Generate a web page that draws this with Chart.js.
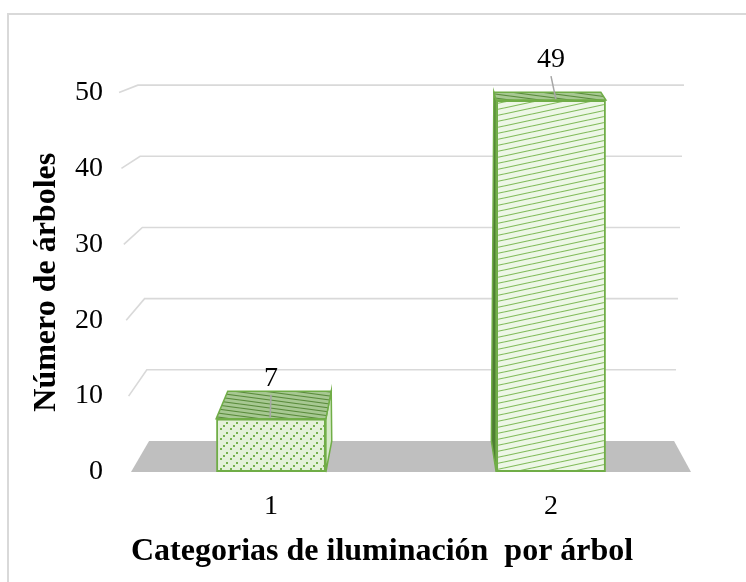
<!DOCTYPE html>
<html>
<head>
<meta charset="utf-8">
<script src="https://cdn.jsdelivr.net/npm/chart.js@4.4.0/dist/chart.umd.min.js"></script>
<style>
html,body{margin:0;padding:0;background:#ffffff;}
#wrap{width:746px;height:582px;position:relative;overflow:hidden;}
</style>
</head>
<body>
<div id="wrap"><canvas id="c" width="746" height="582"></canvas></div>
<script>
// ---- data ----
const categories = ['1', '2'];
const treeCounts = [7, 49];
const yTickValues = [0, 10, 20, 30, 40, 50];
const xAxisTitle = 'Categorias de iluminación  por árbol';
const yAxisTitle = 'Número de árboles';

// ---- style / geometry constants ----
const FONT = "'Liberation Serif', 'Times New Roman', serif";
const GREEN = '#70ad47';
const DEPTH_VP = {x: 420, y: -25};
const DEPTH_K = 0.9375;
const LEAN_VP = {x: 428, y: 9900};

const canvas = document.getElementById('c');
const mainCtx = canvas.getContext('2d');

function makePattern(w, h, bg, draw) {
  const t = document.createElement('canvas');
  t.width = w; t.height = h;
  const g = t.getContext('2d');
  g.fillStyle = bg; g.fillRect(0, 0, w, h);
  draw(g, w, h);
  return mainCtx.createPattern(t, 'repeat');
}
// dotted 45° hatch (bar 1 front)
const dottedPattern = makePattern(10, 10, '#e4f1da', (g) => {
  g.fillStyle = '#76b04f';
  [[0, 8], [3, 5], [6, 2]].forEach(p => g.fillRect(p[0], p[1], 2, 2));
});
// shallow upward lines (bar 2 front)
const linesPattern = makePattern(28, 6, '#edf7e6', (g, w, h) => {
  g.strokeStyle = '#82bb5b'; g.lineWidth = 1.1;
  for (let k = -1; k <= 1; k++) {
    g.beginPath(); g.moveTo(0, h + k * h); g.lineTo(w, k * h); g.stroke();
  }
});
// darker top-face hatch
const topPattern = makePattern(30, 4, '#a7c892', (g, w, h) => {
  g.strokeStyle = '#5a8b3c'; g.lineWidth = 1.1;
  for (let k = -1; k <= 1; k++) {
    g.beginPath(); g.moveTo(0, k * h); g.lineTo(w, h + k * h); g.stroke();
  }
});

function project(chart, x, y, d) {
  const base = chart.chartArea.bottom;
  const lx = LEAN_VP.x + (x - LEAN_VP.x) * (LEAN_VP.y - y) / (LEAN_VP.y - base);
  const s = 1 - d * (1 - DEPTH_K);
  return {x: DEPTH_VP.x + (lx - DEPTH_VP.x) * s, y: DEPTH_VP.y + (y - DEPTH_VP.y) * s};
}
function poly(ctx, pts, fill, stroke, lw) {
  ctx.beginPath();
  pts.forEach((p, i) => i ? ctx.lineTo(p.x, p.y) : ctx.moveTo(p.x, p.y));
  ctx.closePath();
  if (fill) { ctx.fillStyle = fill; ctx.fill(); }
  if (stroke) { ctx.strokeStyle = stroke; ctx.lineWidth = lw || 1; ctx.stroke(); }
}

const scene3d = {
  id: 'scene3d',
  beforeDraw(chart) {
    const ctx = chart.ctx;
    ctx.save();
    ctx.fillStyle = '#ffffff';
    ctx.fillRect(0, 0, chart.width, chart.height);
    ctx.strokeStyle = '#d9d9d9'; ctx.lineWidth = 2;
    ctx.strokeRect(8, 14, 800, 700);
    ctx.restore();
  },
  beforeDatasetsDraw(chart) {
    const ctx = chart.ctx, ca = chart.chartArea, ys = chart.scales.y;
    ctx.save();
    // floor
    poly(ctx, [
      {x: ca.left, y: ca.bottom}, {x: ca.right, y: ca.bottom},
      project(chart, ca.right, ca.bottom, 1), project(chart, ca.left, ca.bottom, 1)
    ], '#bfbfbf');
    // back wall gridlines + side wall diagonals
    ctx.strokeStyle = '#d9d9d9'; ctx.lineWidth = 1.6;
    ys.ticks.forEach(t => {
      if (t.value <= 0) return;
      const y = ys.getPixelForValue(t.value);
      const a = project(chart, ca.left, y, 0);
      const b = project(chart, ca.left, y, 1);
      const c = project(chart, ca.right, y, 1);
      ctx.beginPath(); ctx.moveTo(a.x, a.y); ctx.lineTo(b.x, b.y); ctx.lineTo(c.x, c.y); ctx.stroke();
    });
    // bar side and top faces
    const meta = chart.getDatasetMeta(0);
    meta.data.forEach(bar => {
      const p = bar.getProps(['x', 'y', 'base', 'width'], true);
      const x1 = p.x - p.width / 2, x2 = p.x + p.width / 2, top = p.y, base = p.base;
      if (x2 < DEPTH_VP.x) {
        poly(ctx, [{x: x2, y: top}, {x: x2, y: base}, project(chart, x2, base, 1), project(chart, x2, top, 1)],
          '#d6eac8', GREEN, 1.5);
      }
      if (x1 > DEPTH_VP.x) {
        poly(ctx, [{x: x1, y: top}, {x: x1, y: base}, project(chart, x1, base, 1), project(chart, x1, top, 1)],
          '#4e7e33', GREEN, 1.5);
      }
      poly(ctx, [{x: x1, y: top}, {x: x2, y: top}, project(chart, x2, top, 1), project(chart, x1, top, 1)],
        topPattern, GREEN, 1.5);
    });
    ctx.restore();
  },
  afterDatasetsDraw(chart) {
    const ctx = chart.ctx;
    const meta = chart.getDatasetMeta(0);
    const values = chart.data.datasets[0].data;
    ctx.save();
    meta.data.forEach((bar, i) => {
      const p = bar.getProps(['x', 'y'], true);
      const end = project(chart, p.x, p.y, 0);
      ctx.strokeStyle = '#a6a6a6'; ctx.lineWidth = 1.5;
      ctx.beginPath(); ctx.moveTo(p.x, p.y - 24); ctx.lineTo(end.x, p.y - 1); ctx.stroke();
      ctx.fillStyle = '#000000';
      ctx.font = '28px ' + FONT;
      ctx.textAlign = 'center'; ctx.textBaseline = 'alphabetic';
      ctx.fillText(String(values[i]), p.x, p.y - 43 + 10);
    });
    ctx.restore();
  }
};

new Chart(canvas, {
  type: 'bar',
  data: {
    labels: categories,
    datasets: [{
      data: treeCounts,
      backgroundColor: [dottedPattern, linesPattern],
      borderColor: GREEN,
      borderWidth: 2,
      borderSkipped: false,
      categoryPercentage: 1,
      barPercentage: 0.392
    }]
  },
  options: {
    responsive: false,
    animation: false,
    layout: {padding: {left: 20, right: 55, top: 92.5, bottom: 0}},
    plugins: {legend: {display: false}, tooltip: {enabled: false}},
    scales: {
      x: {
        grid: {display: false, drawTicks: false},
        border: {display: false},
        ticks: {color: '#000000', font: {family: FONT, size: 28}, padding: 18},
        title: {display: true, text: xAxisTitle, align: 'start', color: '#000000',
                font: {family: FONT, size: 32, weight: 'bold'}, padding: {top: 0, bottom: 11}},
        afterFit(s) { s.height = 110; }
      },
      y: {
        min: yTickValues[0],
        max: yTickValues[yTickValues.length - 1],
        grid: {display: false, drawTicks: false},
        border: {display: false},
        ticks: {stepSize: yTickValues[1] - yTickValues[0], color: '#000000',
                font: {family: FONT, size: 28}, padding: 28},
        title: {display: true, text: yAxisTitle, color: '#000000',
                font: {family: FONT, size: 32, weight: 'bold'}, padding: {top: 8, bottom: 0}},
        afterFit(s) { s.width = 111; }
      }
    }
  },
  plugins: [scene3d]
});
</script>
</body>
</html>
